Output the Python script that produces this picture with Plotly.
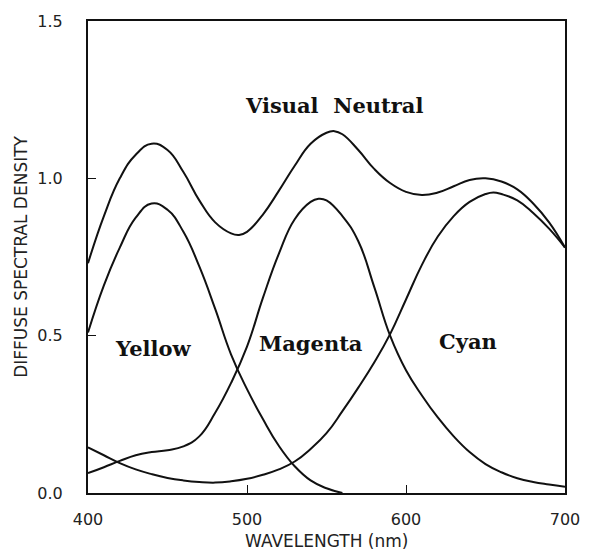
import plotly.graph_objects as go

# ---- data ----
wl_yellow = [400, 410, 420, 430, 440, 450, 460, 470, 480, 490, 500, 510, 520, 530, 540, 550, 560]
yellow = [0.51, 0.66, 0.78, 0.875, 0.92, 0.90, 0.83, 0.72, 0.585, 0.44, 0.33, 0.235, 0.15, 0.085, 0.04, 0.015, 0.0]

wl_magenta = [400, 410, 420, 430, 440, 450, 460, 470, 480, 490, 500, 510, 520, 530, 540, 545,
              550, 560, 570, 580, 590, 600, 610, 620, 630, 640, 650, 660, 670, 680, 690, 700]
magenta = [0.063, 0.082, 0.102, 0.12, 0.13, 0.136, 0.148, 0.18, 0.255, 0.35, 0.465, 0.62, 0.76, 0.87, 0.925, 0.935,
           0.93, 0.88, 0.80, 0.655, 0.50, 0.39, 0.31, 0.24, 0.18, 0.13, 0.092, 0.066, 0.047, 0.035, 0.027, 0.02]

wl_cyan = [400, 410, 420, 430, 440, 450, 460, 470, 480, 490, 500, 510, 520, 530, 540, 550,
           560, 570, 580, 590, 600, 610, 620, 630, 640, 650, 655, 660, 670, 680, 690, 700]
cyan = [0.145, 0.12, 0.095, 0.075, 0.06, 0.048, 0.04, 0.035, 0.033, 0.037, 0.045, 0.058, 0.075, 0.10, 0.14, 0.19,
        0.26, 0.335, 0.415, 0.505, 0.615, 0.725, 0.815, 0.88, 0.925, 0.95, 0.955, 0.95, 0.93, 0.89, 0.84, 0.78]

wl_neutral = [400, 410, 420, 430, 440, 450, 460, 470, 480, 490, 495, 500, 510, 520, 530, 540, 550, 555,
              560, 570, 580, 590, 600, 610, 620, 630, 640, 650, 660, 670, 680, 690, 700]
neutral = [0.73, 0.88, 1.0, 1.075, 1.11, 1.09, 1.02, 0.93, 0.86, 0.825, 0.82, 0.83, 0.885, 0.96, 1.04, 1.11, 1.145, 1.15,
           1.14, 1.09, 1.03, 0.985, 0.957, 0.947, 0.955, 0.975, 0.995, 1.0, 0.99, 0.965, 0.92, 0.86, 0.78]

x_ticks = [400, 500, 600, 700]
y_ticks = [0.0, 0.5, 1.0, 1.5]
y_tick_text = ["0.0", "0.5", "1.0", "1.5"]

labels = ["Visual\u00a0 Neutral", "Yellow", "Magenta", "Cyan"]
label_x = [555, 441, 540, 639]
label_y = [1.23, 0.458, 0.474, 0.48]

# ---- figure ----
fig = go.Figure()
line_style = dict(color="#111111", width=2, shape="spline", smoothing=1.3)
for xs, ys, name in [(wl_neutral, neutral, "Visual Neutral"), (wl_yellow, yellow, "Yellow"),
                     (wl_magenta, magenta, "Magenta"), (wl_cyan, cyan, "Cyan")]:
    fig.add_trace(go.Scatter(x=xs, y=ys, mode="lines", line=line_style, name=name,
                             showlegend=False, cliponaxis=True))

for t, x, y in zip(labels, label_x, label_y):
    fig.add_annotation(x=x, y=y, xref="x", yref="y", text="<b>%s</b>" % t, showarrow=False,
                       font=dict(family="DejaVu Serif", size=21, color="#111111"),
                       xanchor="center", yanchor="middle")

# axis titles
fig.add_annotation(x=0.5, y=-0.101, xref="paper", yref="paper", text="WAVELENGTH (nm)",
                   showarrow=False, font=dict(family="DejaVu Sans", size=17, color="#222222"),
                   xanchor="center", yanchor="middle")
fig.add_annotation(x=-0.1408, y=0.5, xref="paper", yref="paper", text="DIFFUSE SPECTRAL DENSITY",
                   showarrow=False, textangle=-90, font=dict(family="DejaVu Sans", size=17, color="#222222"),
                   xanchor="center", yanchor="middle")

axis_common = dict(showgrid=False, zeroline=False, showline=True, linecolor="#111111", linewidth=2,
                   mirror=True, ticks="inside", ticklen=8, tickwidth=1, tickcolor="#111111",
                   tickfont=dict(family="DejaVu Sans", size=16, color="#222222"))

fig.update_xaxes(range=[400, 700], tickvals=x_ticks, ticktext=[str(v) for v in x_ticks],
                 ticklabelstandoff=11, **axis_common)
fig.update_yaxes(range=[0, 1.5], tickvals=y_ticks, ticktext=y_tick_text,
                 ticklabelstandoff=20, **axis_common)

fig.update_layout(width=592, height=555, margin=dict(l=88, r=21, t=18, b=62),
                  paper_bgcolor="white", plot_bgcolor="white")

fig.write_html("out.html")
